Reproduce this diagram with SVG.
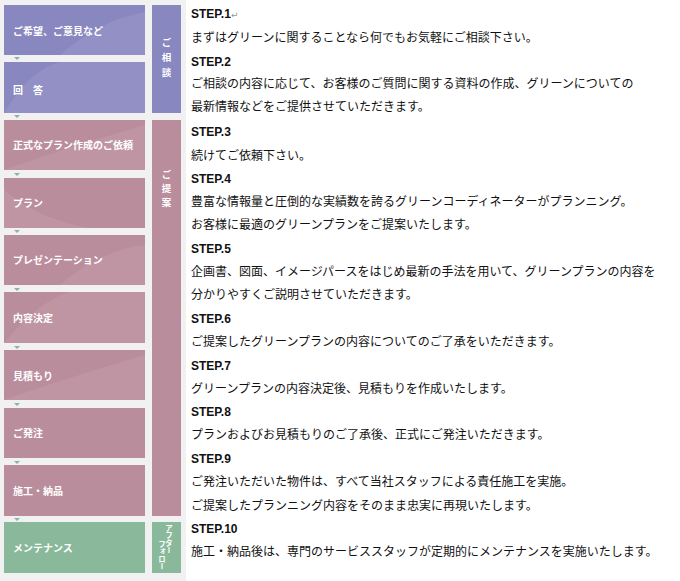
<svg xmlns="http://www.w3.org/2000/svg" width="680" height="581" viewBox="0 0 680 581">
<defs>
<style>
.bg{fill:#f1f1f1}
.pu{fill:#8987bf}
.pk{fill:#ba8d9c}
.gr{fill:#89b99a}
.sheen{fill:#ffffff;opacity:0.08}
.lbl{font-family:"Noto Sans CJK JP","Noto Sans",sans-serif;font-size:10px;font-weight:bold;fill:#ffffff}
.vl{font-family:"Noto Sans CJK JP","Noto Sans",sans-serif;font-size:9.5px;font-weight:bold;fill:#ffffff;text-anchor:middle}
.vs{font-family:"Noto Sans CJK JP","Noto Sans",sans-serif;font-size:7.5px;font-weight:bold;fill:#ffffff;writing-mode:vertical-rl}
.step{font-family:"Liberation Sans",Arial,sans-serif;font-size:12px;font-weight:bold;fill:#111111}
.txt{font-family:"Noto Sans CJK JP","Noto Sans",sans-serif;font-size:12px;fill:#111111}
.ret{font-family:"DejaVu Sans",sans-serif;font-size:9px;fill:#999999}
.arr{fill:#8fb0b0}
</style>
</defs>
<rect x="0" y="0" width="186" height="581" class="bg"/>
<g id="connectors">
<polygon class="arr" points="14,57 20,57 17,60"/>
<polygon class="arr" points="14,115 20,115 17,118"/>
<polygon class="arr" points="14,173 20,173 17,176"/>
<polygon class="arr" points="14,230 20,230 17,233"/>
<polygon class="arr" points="14,288 20,288 17,291"/>
<polygon class="arr" points="14,346 20,346 17,349"/>
<polygon class="arr" points="14,403 20,403 17,406"/>
<polygon class="arr" points="14,461 20,461 17,464"/>
<polygon class="arr" points="14,518 20,518 17,521"/>
</g>
<g id="n1"><rect x="4" y="5" width="141" height="50" class="pu"/><path d="M60,55 Q100,20 145,12 L145,55 Z" class="sheen"/><text x="13" y="35" class="lbl">ご希望、ご意見など</text></g>
<g id="n2"><rect x="4" y="62" width="141" height="51" class="pu"/><path d="M4,113 Q30,70 60,62 L145,62 L145,113 Z" class="sheen"/><text x="13" y="94" class="lbl">回　答</text></g>
<g id="n3"><rect x="4" y="120" width="141" height="50" class="pk"/><path d="M4,170 Q60,150 145,125 L145,170 Z" class="sheen"/><text x="13" y="149" class="lbl">正式なプラン作成のご依頼</text></g>
<g id="n4"><rect x="4" y="178" width="141" height="50" class="pk"/><path d="M4,190 Q40,220 90,228 L4,228 Z" class="sheen"/><text x="13" y="207" class="lbl">プラン</text></g>
<g id="n5"><rect x="4" y="235" width="141" height="50" class="pk"/><path d="M60,285 Q100,250 145,245 L145,285 Z" class="sheen"/><text x="13" y="264" class="lbl">プレゼンテーション</text></g>
<g id="n6"><rect x="4" y="292" width="141" height="51" class="pk"/><path d="M4,343 Q40,300 70,292 L145,292 L145,343 Z" class="sheen"/><text x="13" y="322" class="lbl">内容決定</text></g>
<g id="n7"><rect x="4" y="350" width="141" height="50" class="pk"/><path d="M4,400 Q60,380 145,355 L145,400 Z" class="sheen"/><text x="13" y="380" class="lbl">見積もり</text></g>
<g id="n8"><rect x="4" y="408" width="141" height="50" class="pk"/><text x="13" y="437" class="lbl">ご発注</text></g>
<g id="n9"><rect x="4" y="465" width="141" height="51" class="pk"/><text x="13" y="495" class="lbl">施工・納品</text></g>
<g id="n10"><rect x="4" y="522" width="141" height="51" class="gr"/><text x="13" y="552" class="lbl">メンテナンス</text></g>
<g id="c1"><rect x="152" y="5" width="29" height="108" class="pu"/><text x="166.5" y="46" class="vl">ご</text><text x="166.5" y="61" class="vl">相</text><text x="166.5" y="76" class="vl">談</text></g>
<g id="c2"><rect x="152" y="120" width="29" height="396" class="pk"/><text x="166.5" y="178" class="vl">ご</text><text x="166.5" y="192" class="vl">提</text><text x="166.5" y="206" class="vl">案</text></g>
<g id="c3"><rect x="152" y="522" width="29" height="51" class="gr"/><text x="169" y="524" class="vs">アフター</text><text x="162" y="540" class="vs">フォロー</text></g>
<g id="steps">
<text x="191" y="18" class="step">STEP.1</text><text x="231" y="18" class="ret">↵</text>
<text x="191" y="42" class="txt">まずはグリーンに関することなら何でもお気軽にご相談下さい。</text>
<text x="191" y="66" class="step">STEP.2</text>
<text x="191" y="88" class="txt">ご相談の内容に応じて、お客様のご質問に関する資料の作成、グリーンについての</text>
<text x="191" y="111" class="txt">最新情報などをご提供させていただきます。</text>
<text x="191" y="136" class="step">STEP.3</text>
<text x="191" y="160" class="txt">続けてご依頼下さい。</text>
<text x="191" y="183" class="step">STEP.4</text>
<text x="191" y="206" class="txt">豊富な情報量と圧倒的な実績数を誇るグリーンコーディネーターがプランニング。</text>
<text x="191" y="229" class="txt">お客様に最適のグリーンプランをご提案いたします。</text>
<text x="191" y="253" class="step">STEP.5</text>
<text x="191" y="276" class="txt">企画書、図面、イメージパースをはじめ最新の手法を用いて、グリーンプランの内容を</text>
<text x="191" y="299" class="txt">分かりやすくご説明させていただきます。</text>
<text x="191" y="323" class="step">STEP.6</text>
<text x="191" y="346" class="txt">ご提案したグリーンプランの内容についてのご了承をいただきます。</text>
<text x="191" y="370" class="step">STEP.7</text>
<text x="191" y="393" class="txt">グリーンプランの内容決定後、見積もりを作成いたします。</text>
<text x="191" y="416" class="step">STEP.8</text>
<text x="191" y="439" class="txt">プランおよびお見積もりのご了承後、正式にご発注いただきます。</text>
<text x="191" y="463" class="step">STEP.9</text>
<text x="191" y="486" class="txt">ご発注いただいた物件は、すべて当社スタッフによる責任施工を実施。</text>
<text x="191" y="510" class="txt">ご提案したプランニング内容をそのまま忠実に再現いたします。</text>
<text x="191" y="533" class="step">STEP.10</text>
<text x="191" y="556" class="txt">施工・納品後は、専門のサービススタッフが定期的にメンテナンスを実施いたします。</text>
</g>
</svg>
